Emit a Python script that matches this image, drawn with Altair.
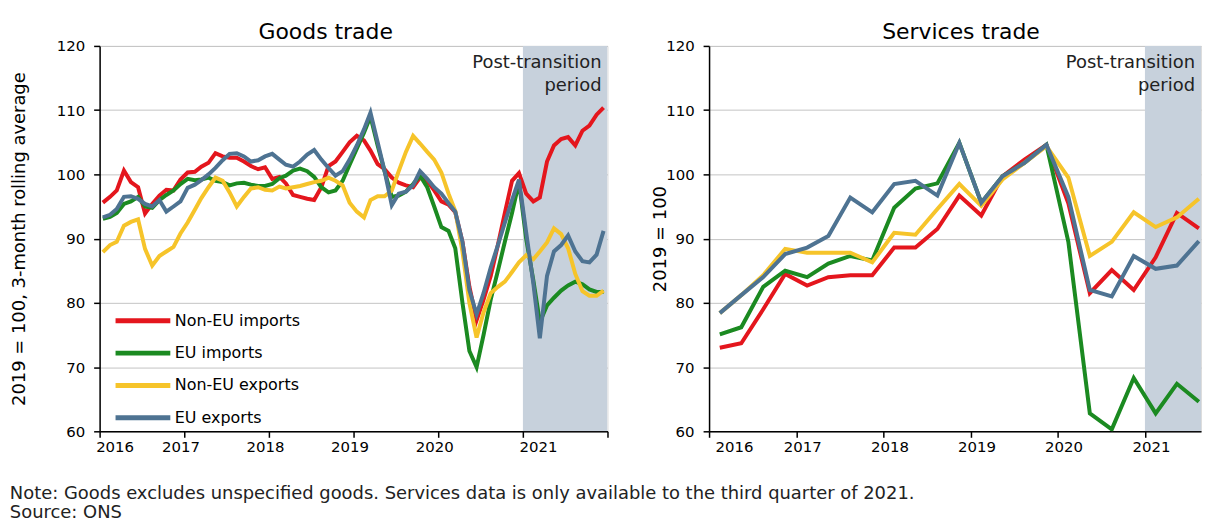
import altair as alt
import pandas as pd

FONT = "DejaVu Sans"

series_names = ["Non-EU imports", "EU imports", "Non-EU exports", "EU exports"]
series_colors = ["#e4161d", "#1b8a21", "#f6c42a", "#4e7392"]

# Goods: monthly, Jan 2016 - Dec 2021 (3-month rolling average, 2019 = 100)
goods_dates = [f"{y}-{m:02d}-15" for y in range(2016, 2022) for m in range(1, 13)]

goods_non_eu_imports = [
    95.6, 96.5, 97.5, 100.6, 98.8, 98.0, 93.9, 95.4, 96.7, 97.6, 97.5, 99.2,
    100.3, 100.4, 101.2, 101.8, 103.3, 102.8, 102.6, 102.6, 102.0, 101.3, 100.8, 101.1,
    99.3, 99.6, 98.6, 96.8, 96.5, 96.2, 96.0, 98.0, 101.3, 102.0, 103.5, 105.0,
    106.0, 105.3, 103.7, 101.6, 100.8, 99.5, 98.7, 98.3, 98.0, 99.5, 99.0, 97.5,
    95.8, 95.3, 94.1, 89.5, 82.5, 77.3, 80.5, 84.2, 89.0, 94.0, 99.0, 100.2,
    97.0, 95.8, 96.4, 102.0, 104.5, 105.5, 105.8, 104.5, 106.8, 107.6, 109.3, 110.4,
]
goods_eu_imports = [
    93.1, 93.4, 94.0, 95.4, 95.8, 96.5, 95.0, 94.8, 96.0, 96.8, 97.5, 98.5,
    99.3, 99.1, 99.2, 99.5, 99.0, 98.8, 98.3, 98.6, 98.7, 98.4, 98.2, 98.2,
    98.5, 99.4, 99.8, 100.6, 100.9, 100.5, 99.6, 98.0, 97.2, 97.5, 99.0, 101.5,
    104.0, 106.5, 109.0, 104.5, 100.5, 96.5, 96.7, 97.3, 98.5, 99.8, 98.0, 95.0,
    91.8, 91.2, 88.5, 80.0, 72.5, 70.0, 75.0, 80.5, 85.0, 89.5, 94.0, 98.8,
    90.0, 83.5, 77.0, 79.6, 80.8, 81.9, 82.7, 83.3, 82.9, 82.1, 81.7, 81.7,
]
goods_non_eu_exports = [
    87.9, 89.0, 89.5, 92.0, 92.6, 93.0, 88.4, 85.8, 87.3, 88.0, 88.7, 90.8,
    92.5, 94.5, 96.3, 98.0, 99.5, 99.0, 97.2, 95.0, 96.5, 97.8, 98.0, 97.6,
    97.5, 98.1, 97.8, 98.0, 98.2, 98.5, 98.8, 99.0, 99.5, 99.0, 98.3, 95.6,
    94.2, 93.3, 96.0, 96.6, 96.6, 97.5, 100.5, 103.5, 106.0, 104.8, 103.5, 102.3,
    100.3, 97.0, 94.3, 88.0, 80.0, 74.6, 78.5, 81.5, 82.5, 83.3, 84.8, 86.3,
    87.4, 86.8, 88.0, 89.4, 91.6, 90.7, 88.5, 84.5, 81.8, 81.1, 81.1, 81.9,
]
goods_eu_exports = [
    93.3, 93.7, 94.6, 96.5, 96.6, 96.2, 95.4, 95.0, 96.0, 94.2, 95.0, 95.8,
    97.9, 98.4, 99.1, 100.0, 101.0, 102.2, 103.2, 103.3, 102.8, 102.0, 102.2, 102.8,
    103.2, 102.3, 101.5, 101.2, 102.0, 103.1, 103.8, 102.3, 101.0, 99.8, 100.5, 102.3,
    104.5, 107.0, 109.6, 105.0, 100.5, 95.2, 97.0, 97.3, 98.3, 100.5, 99.3, 98.0,
    97.0, 95.5, 94.2, 89.5, 82.0, 78.2, 81.5, 85.5, 89.0, 92.5, 96.0, 99.2,
    91.0, 83.0, 74.5, 84.2, 88.0, 89.0, 90.5, 88.0, 86.5, 86.3, 87.5, 91.2,
]

# Services: quarterly, Q1 2016 - Q3 2021 (plotted mid-quarter)
svc_dates = [f"{y}-{m:02d}-15" for y in range(2016, 2022) for m in (2, 5, 8, 11)][:23]

svc_non_eu_imports = [73.0, 73.7, 79.0, 84.5, 82.7, 84.0, 84.3, 84.3, 88.6, 88.6, 91.5, 96.7,
                      93.6, 99.7, 102.3, 104.6, 95.5, 81.5, 85.1, 82.0, 87.1, 94.0, 91.6]
svc_eu_imports = [75.1, 76.2, 82.5, 85.0, 84.0, 86.1, 87.3, 86.6, 94.8, 97.8, 98.6, 104.9,
                  95.6, 99.7, 101.8, 104.6, 89.5, 62.8, 60.3, 68.3, 62.8, 67.4, 64.6]
svc_non_eu_exports = [78.4, 81.2, 84.3, 88.4, 87.8, 87.8, 87.8, 86.3, 90.9, 90.6, 94.6, 98.5,
                      95.1, 99.2, 101.8, 104.4, 99.5, 87.3, 89.5, 94.1, 91.8, 93.3, 96.2]
svc_eu_exports = [78.4, 81.2, 84.0, 87.6, 88.6, 90.4, 96.4, 94.1, 98.5, 99.0, 96.7, 104.9,
                  95.6, 99.7, 101.8, 104.6, 96.5, 82.0, 81.0, 87.3, 85.3, 85.8, 89.6]

y_ticks = [60, 70, 80, 90, 100, 110, 120]
annotation_text = "Post-transition\nperiod"
note_lines = [
    "Note: Goods excludes unspecified goods. Services data is only available to the third quarter of 2021.",
    "Source: ONS",
]


def long_df(dates, lists):
    rows = []
    for name, vals in zip(series_names, lists):
        for d, v in zip(dates, vals):
            rows.append({"date": d, "series": name, "value": v})
    return pd.DataFrame(rows)


goods_df = long_df(goods_dates, [goods_non_eu_imports, goods_eu_imports,
                                 goods_non_eu_exports, goods_eu_exports])
svc_df = long_df(svc_dates, [svc_non_eu_imports, svc_eu_imports,
                             svc_non_eu_exports, svc_eu_exports])

shade_df = pd.DataFrame({"start": ["2021-01-01"], "end": ["2022-01-01"],
                         "lo": [60], "hi": [120]})

color_scale = alt.Scale(domain=series_names, range=series_colors)
y_scale = alt.Scale(domain=[60, 120], nice=False, zero=False)


def y_axis(title, title_padding):
    return alt.Axis(values=y_ticks, title=title, titleFontSize=18, titleFontWeight="normal",
                    titleColor="black", titleFont=FONT, labelFont=FONT,
                    labelFontSize=15, labelColor="black", domainColor="black", domainWidth=1.5,
                    tickColor="black", tickSize=6, tickWidth=1.5, gridColor="#c4c4c4",
                    gridWidth=1, labelPadding=9, titlePadding=title_padding)


def x_axis(years, first, last, offset):
    vals = [alt.DateTime(year=y, month=1, date=1) for y in years]
    return alt.Axis(values=vals, title=None, grid=False,
                    labelExpr="year(datum.value) >= 2022 ? '' : timeFormat(datum.value, '%Y')",
                    labelFont=FONT, labelFontSize=15, labelColor="black", labelPadding=2,
                    labelOffset=offset,
                    labelAlign={"condition": {"test": f"year(datum.value) == {first} || year(datum.value) == {last}",
                                              "value": "left"}, "value": "center"},
                    domainColor="black", domainWidth=1.5, tickColor="black", tickSize=6,
                    tickWidth=1.5, labelOverlap=False)


def panel(df, title, ytitle, title_padding, end_date, end_str, years, width, legend,
          align_last, label_offset, title_dx):
    xs = alt.Scale(domain=[alt.DateTime(year=2016, month=1, date=1), end_date], nice=False)
    xax = x_axis(years, 2016, align_last, label_offset)
    annot_df = pd.DataFrame({"date": [end_str], "value": [120], "label": [annotation_text]})
    shade = alt.Chart(shade_df).mark_rect(color="#c7d1dc", clip=True).encode(
        x=alt.X("start:T", scale=xs, axis=xax), x2="end:T",
        y=alt.Y("lo:Q", scale=y_scale, axis=y_axis(ytitle, title_padding)), y2="hi:Q")
    text = alt.Chart(annot_df).mark_text(
        align="right", baseline="top", lineBreak="\n", fontSize=18, font=FONT,
        color="#222222", dx=-6, dy=8, lineHeight=23).encode(
        x=alt.X("date:T", scale=xs), y=alt.Y("value:Q", scale=y_scale), text="label:N")
    lines = alt.Chart(df).mark_line(strokeWidth=4, clip=True).encode(
        x=alt.X("date:T", scale=xs),
        y=alt.Y("value:Q", scale=y_scale),
        color=alt.Color("series:N", scale=color_scale, sort=series_names, legend=legend),
    )
    return alt.layer(shade, text, lines).properties(
        width=width, height=387,
        title=alt.TitleParams(title, fontSize=22, fontWeight="normal", font=FONT,
                              color="black", anchor="middle", offset=-5, dx=title_dx))


legend = alt.Legend(orient="none", legendX=13.5, legendY=264.5, title=None, symbolType="stroke",
                    symbolStrokeWidth=5, symbolSize=3025, labelFontSize=16, labelFont=FONT,
                    labelColor="black", padding=0, labelOffset=2, rowPadding=9.5, clipHeight=23)

left = panel(goods_df, "Goods trade", "2019 = 100, 3-month rolling average", 28,
             alt.DateTime(year=2022, month=1, date=1), "2022-01-01", range(2016, 2023),
             510, legend, 2021, -4, -28)
right = panel(svc_df, "Services trade", "2019 = 100", -4,
              alt.DateTime(year=2021, month=8, date=24), "2021-08-24", range(2016, 2022),
              494, None, 2016, 6, 6)

chart = alt.hconcat(left, right, spacing=41).resolve_scale(color="independent").resolve_legend(
    color="independent").properties(
    padding={"left": 1, "top": 11, "right": 0, "bottom": 0},
    title=alt.TitleParams(note_lines, orient="bottom", anchor="start", fontSize=18,
                          fontWeight="normal", font=FONT, color="#222222", offset=30,
                          lineHeight=20),
).configure_view(stroke=None).configure(font=FONT)

chart.save("out.html", embed_options={"renderer": "svg", "actions": False})
